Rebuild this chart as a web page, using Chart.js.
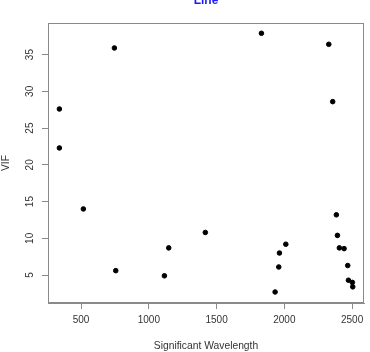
<!DOCTYPE html>
<html>
<head>
<meta charset="utf-8">
<script src="https://cdn.jsdelivr.net/npm/chart.js@4"></script>
<style>
  html, body { margin: 0; padding: 0; background: #fff; }
  #wrap { width: 370px; height: 352px; }
</style>
</head>
<body>
<div id="wrap"><canvas id="vifChart" width="370" height="352"></canvas></div>
<script>
// values
const wavelength = [340, 746, 1831, 2328, 2357, 340, 517, 1417, 2384, 2392, 756, 1115,
    1147, 1932, 1959, 1964, 2011, 2406, 2441, 2468, 2473, 2502, 2505];
const vif = [27.6, 35.9, 37.9, 36.4, 28.6, 22.3, 14.0, 10.8, 13.2, 10.4, 5.6, 4.9,
    8.7, 2.7, 6.1, 8.0, 9.2, 8.7, 8.6, 6.3, 4.3, 4.0, 3.4];
const xTicks = [500, 1000, 1500, 2000, 2500];
const yTicks = [5, 10, 15, 20, 25, 30, 35];

const fontFamily = '"Liberation Sans", Arial, sans-serif';

// R style box around the plot region plus the cut-off title
const boxPlugin = {
    id: 'boxPlugin',
    afterDraw(chart) {
        const ctx = chart.ctx;
        const a = chart.chartArea;
        ctx.save();
        ctx.strokeStyle = '#8a8a8a';
        ctx.lineWidth = 1;
        ctx.strokeRect(a.left + 0.5, a.top + 0.5, a.right - a.left - 1, a.bottom - a.top - 1);
        ctx.fillStyle = '#1a1aff';
        ctx.font = 'bold 12px ' + fontFamily;
        ctx.textAlign = 'center';
        ctx.textBaseline = 'alphabetic';
        ctx.fillText('Line', (a.left + a.right) / 2, 4);
        ctx.restore();
    }
};

document.addEventListener('DOMContentLoaded', function () {
    const ctx = document.getElementById('vifChart').getContext('2d');
    new Chart(ctx, {
        type: 'scatter',
        data: {
            datasets: [{
                data: wavelength.map((w, i) => ({ x: w, y: vif[i] })),
                backgroundColor: '#000',
                borderColor: '#000',
                pointRadius: 2.3,
                pointHoverRadius: 2.3
            }]
        },
        options: {
            responsive: false,
            animation: false,
            layout: { padding: { top: 23, right: 6, left: 0, bottom: 0 } },
            plugins: {
                legend: { display: false },
                tooltip: { enabled: false }
            },
            scales: {
                x: {
                    type: 'linear',
                    min: 256,
                    max: 2588,
                    afterBuildTicks: (scale) => { scale.ticks = xTicks.map(v => ({ value: v })); },
                    afterFit: (scale) => { scale.height = 49; },
                    grid: { drawOnChartArea: false, drawTicks: true, tickLength: 6, color: '#8a8a8a' },
                    border: { display: true, color: '#8a8a8a' },
                    ticks: {
                        color: '#333',
                        padding: 5,
                        maxRotation: 0,
                        callback: (v) => String(v),
                        font: { family: fontFamily, size: 10 }
                    },
                    title: {
                        display: true,
                        text: 'Significant Wavelength',
                        color: '#333',
                        padding: { top: 0, bottom: 0 },
                        font: { family: fontFamily, size: 10.3 }
                    }
                },
                y: {
                    type: 'linear',
                    min: 1.2,
                    max: 39.3,
                    afterBuildTicks: (scale) => { scale.ticks = yTicks.map(v => ({ value: v })); },
                    afterFit: (scale) => { scale.width = 48; },
                    grid: { drawOnChartArea: false, drawTicks: true, tickLength: 6, color: '#8a8a8a' },
                    border: { display: true, color: '#8a8a8a' },
                    ticks: {
                        color: '#333',
                        padding: 6,
                        minRotation: 90,
                        maxRotation: 90,
                        crossAlign: 'center',
                        callback: (v) => String(v),
                        font: { family: fontFamily, size: 10 }
                    },
                    title: {
                        display: true,
                        text: 'VIF',
                        color: '#333',
                        padding: { top: 0, bottom: 0 },
                        font: { family: fontFamily, size: 10.3 }
                    }
                }
            }
        },
        plugins: [boxPlugin]
    });
});
</script>
</body>
</html>
